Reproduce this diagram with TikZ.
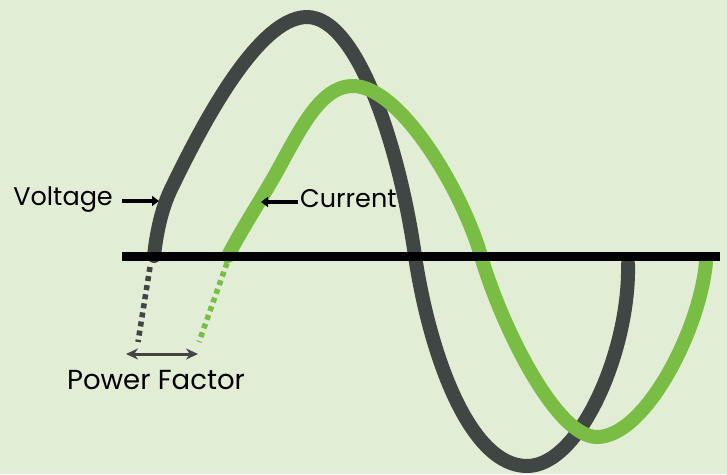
\documentclass[tikz,border=0pt]{standalone}
\usepackage{fontspec}
\setmainfont{Poppins}
\usepackage{tikz}
\usetikzlibrary{arrows.meta,positioning}
\definecolor{wavebg}{HTML}{E2EDD5}
\definecolor{voltgray}{HTML}{404643}
\definecolor{currgreen}{HTML}{79BD44}

\begin{document}
\begin{tikzpicture}[
    x=1pt, y=-1pt,
    wave/.style={line width=14pt, line cap=round, line join=round},
    lag/.style={line width=5.5pt, dash pattern=on 5pt off 4.2pt},
    label/.style={font=\fontsize{25.5}{28}\selectfont, inner sep=0pt},
    pointer/.style={-{Triangle[length=7pt,width=10pt]}, line width=3.5pt, draw=black},
    span/.style={{Stealth[length=12pt,width=11pt]}-{Stealth[length=12pt,width=11pt]}, line width=3pt, draw=voltgray}
]
    \fill[wavebg] (0,0) rectangle (727,474);
    \useasboundingbox (0,0) rectangle (727,474);

    % voltage and current waves
    \draw[wave, voltgray] (154,256) .. controls (157,228) and (163,205) .. (172,187)
        .. controls (195,140) and (255,17) .. (307,17)
        .. controls (358,17) and (400,150) .. (415,256)
        .. controls (430,356) and (470,466) .. (527,466)
        .. controls (580,466) and (630,350) .. (628,264);
    \draw[wave, currgreen] (228,256) .. controls (240,232) and (262,198) .. (275,175)
        .. controls (300,130) and (320,86) .. (353,86)
        .. controls (400,86) and (462,190) .. (481,256)
        .. controls (500,322) and (555,437) .. (597,437)
        .. controls (645,437) and (700,330) .. (706,262);

    % lag between the two waves
    \coordinate (vstart) at (150,267);
    \coordinate (vend) at (138,342);
    \coordinate (cstart) at (227,263);
    \coordinate (cend) at (199,342);
    \draw[lag, voltgray] (vstart) -- (vend);
    \draw[lag, currgreen] (cstart) -- (cend);

    % axis
    \coordinate (axisl) at (122,256.5);
    \coordinate (axisr) at (720,256.5);
    \draw[line width=9pt] (axisl) -- (axisr);

    \node[label, anchor=base east] (voltage) at (113,205) {Voltage};
    \node[label, anchor=base west] (current) at (300,207) {Current};
    \node[label, anchor=base, font=\fontsize{27.5}{30}\selectfont] (pf) at (156,389) {Power Factor};

    \coordinate (vtail) at (122,201);
    \coordinate (vtip) at (159,201);
    \coordinate (ctail) at (298,202);
    \coordinate (ctip) at (261,202);
    \coordinate (pfl) at (126,354);
    \coordinate (pfr) at (198,354);
    \draw[pointer] (vtail) -- (vtip);
    \draw[pointer] (ctail) -- (ctip);
    \draw[span] (pfl) -- (pfr);
\end{tikzpicture}
\end{document}
